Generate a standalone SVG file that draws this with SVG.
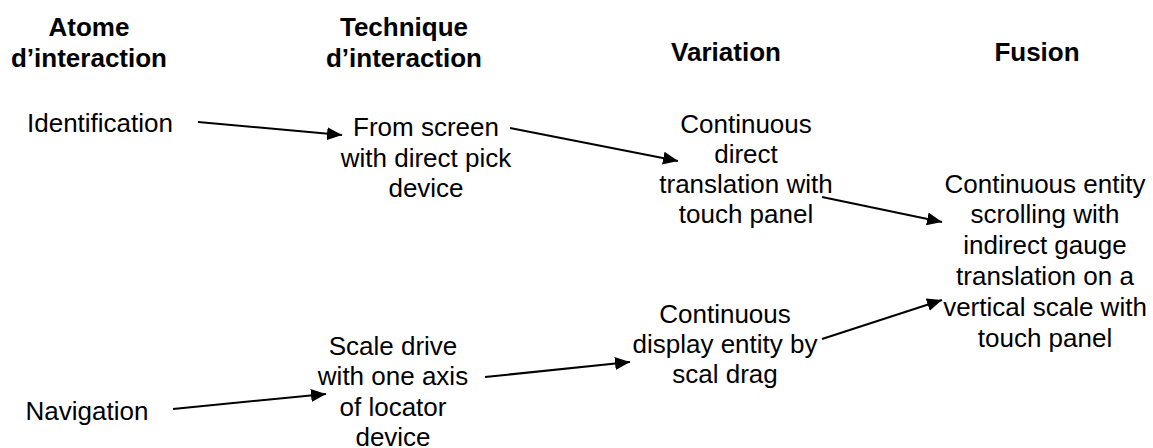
<svg xmlns="http://www.w3.org/2000/svg" width="1153" height="448" viewBox="0 0 1153 448">
<style>
text{font-family:"Liberation Sans",Arial,sans-serif;font-size:26px;fill:#000;text-anchor:middle}
.h{font-weight:bold}
.c{stroke:#000;stroke-width:2;fill:none;marker-end:url(#ah)}
</style>
<defs>
<marker id="ah" markerUnits="userSpaceOnUse" markerWidth="16" markerHeight="13" refX="15" refY="6.5" orient="auto">
<path d="M0,0 L15,6.5 L0,13 z" fill="#000"/>
</marker>
</defs>
<rect width="1153" height="448" fill="#fff"/>
<g id="headers">
<text class="h" x="89" y="36">Atome</text>
<text class="h" x="89" y="67">d’interaction</text>
<text class="h" x="404" y="36">Technique</text>
<text class="h" x="404" y="67">d’interaction</text>
<text class="h" x="726" y="61">Variation</text>
<text class="h" x="1037" y="61">Fusion</text>
</g>
<g id="identification"><text x="100" y="132">Identification</text></g>
<g id="navigation"><text x="87" y="420">Navigation</text></g>
<g id="from-screen">
<text x="426" y="136">From screen</text>
<text x="426" y="167">with direct pick</text>
<text x="426" y="197">device</text>
</g>
<g id="scale-drive">
<text x="393" y="355">Scale drive</text>
<text x="393" y="385">with one axis</text>
<text x="393" y="416">of locator</text>
<text x="393" y="446">device</text>
</g>
<g id="continuous-direct">
<text x="746" y="133">Continuous</text>
<text x="746" y="163">direct</text>
<text x="746" y="193">translation with</text>
<text x="746" y="223">touch panel</text>
</g>
<g id="continuous-display">
<text x="725" y="323">Continuous</text>
<text x="725" y="353">display entity by</text>
<text x="725" y="383">scal drag</text>
</g>
<g id="fusion-node">
<text x="1045" y="193">Continuous entity</text>
<text x="1045" y="223">scrolling with</text>
<text x="1045" y="254">indirect gauge</text>
<text x="1045" y="285">translation on a</text>
<text x="1045" y="316">vertical scale with</text>
<text x="1045" y="347">touch panel</text>
</g>
<g id="connectors">
<line class="c" x1="198" y1="122" x2="342" y2="135"/>
<line class="c" x1="510" y1="128" x2="678" y2="161"/>
<line class="c" x1="822" y1="197" x2="942" y2="222"/>
<line class="c" x1="822" y1="339" x2="942" y2="300"/>
<line class="c" x1="485" y1="377" x2="630" y2="362"/>
<line class="c" x1="173" y1="409" x2="326" y2="394"/>
</g>
</svg>
